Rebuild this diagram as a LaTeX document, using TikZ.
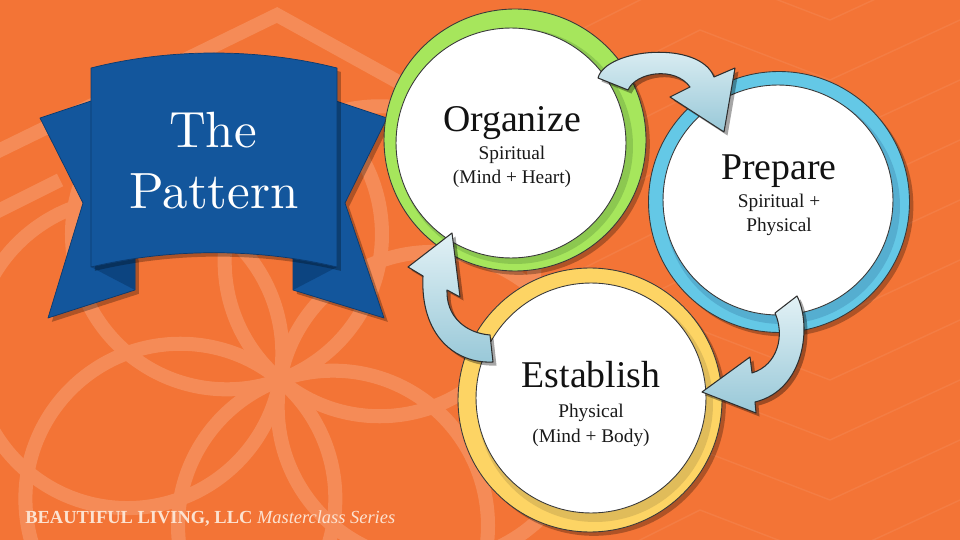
\documentclass[tikz,border=0pt]{standalone}
\usepackage{fontspec}
\newfontfamily\timesfont{Liberation Serif}
\newfontfamily\titlefont{lmroman10-regular.otf}
\usetikzlibrary{shadows}
\definecolor{bgorange}{HTML}{F37436}
\definecolor{ribbonblue}{HTML}{13569C}
\definecolor{ribbondark}{HTML}{0C4480}
\definecolor{ribbonedge}{HTML}{0B3A6E}
\definecolor{greenring}{HTML}{A6E65C}
\definecolor{greendark}{HTML}{8CC850}
\definecolor{bluering}{HTML}{64C8E6}
\definecolor{bluedark}{HTML}{55AED0}
\definecolor{yellowring}{HTML}{FDD464}
\definecolor{yellowdark}{HTML}{E0BC5A}
\definecolor{ringedge}{HTML}{3A3A3A}
\definecolor{arrowlight}{HTML}{E2F1F5}
\definecolor{arrowdark}{HTML}{98C8D8}
\definecolor{arrowedge}{HTML}{2E2E2E}
\definecolor{footcolor}{HTML}{FCE2D0}
\begin{document}
\begin{tikzpicture}[x=0.02cm,y=-0.02cm,line join=round,
  pattline/.style={white,line width=8pt},
  thinpatt/.style={white,opacity=0.07,line width=0.8pt},
  ribbonpart/.style={fill=ribbonblue,draw=ribbonedge,line width=0.4pt},
  softshadow/.style={drop shadow={shadow xshift=2.2pt,shadow yshift=-2.2pt,opacity=0.28,fill=black}},
  outerring/.style={draw=ringedge,line width=0.5pt,softshadow},
  innerdisc/.style={circle,fill=white,draw=ringedge,line width=0.5pt,minimum size=4.6cm,inner sep=0pt},
  titletext/.style={text=white,inner sep=0pt,font=\titlefont\fontsize{29}{34}\selectfont},
  bigtext/.style={text=black!93,inner sep=0pt,font=\timesfont\fontsize{21.5}{24}\selectfont},
  smalltext/.style={text=black!90,inner sep=0pt,font=\timesfont\fontsize{11}{13}\selectfont},
  blockarrow/.style={draw=arrowedge,line width=0.6pt,top color=arrowlight,bottom color=arrowdark,
     drop shadow={shadow xshift=2pt,shadow yshift=-2pt,opacity=0.35,fill=black}}]
\useasboundingbox (0,0) rectangle (960,540);
\fill[bgorange] (0,0) rectangle (960,540);
% background pattern
\begin{scope}
\clip (0,0) rectangle (960,540);
\foreach \i in {-3,...,10} {
  \draw[thinpatt] (560,60*\i+40) -- (700,60*\i-30) -- (830,60*\i+20) -- (960,60*\i-40);
}
\begin{scope}[transparency group,opacity=0.17]
\foreach \a in {10,70,130,190,250,310} {
  \draw[pattline,shift={(280,380)}] (\a:155) circle[radius=3.1cm];
}
\draw[pattline] (-10,155) -- (277,15) -- (440,105);
\draw[pattline] (-10,215) -- (60,180);
\end{scope}
\end{scope}
% ribbon
\path[ribbonpart,softshadow] (40,118) -- (100,98) -- (135,258) -- (135,290) -- (48,318) -- (83,203) -- cycle;
\path[ribbonpart,softshadow] (387,118) -- (327,98) -- (293,258) -- (293,290) -- (384,318) -- (345,203) -- cycle;
\fill[ribbondark] (91,267) -- (135,259) -- (135,290) -- cycle;
\fill[ribbondark] (337,267) -- (293,259) -- (293,290) -- cycle;
\path[ribbonpart,softshadow] (91,68) .. controls (170,48) and (258,48) .. (337,68) -- (337,267) .. controls (258,248) and (170,248) .. (91,267) -- cycle;
\node[titletext,anchor=base] (the) at (213,148) {The};
\node[titletext,anchor=base] (pattern) at (214,209) {Pattern};
% Organize ring
\path[fill=greenring,outerring] (515,140) circle[radius=2.62cm];
\fill[greendark] (515,146) circle[radius=2.36cm];
\node[innerdisc] (organize) at (511,143) {};
\node[bigtext,anchor=base] (orgtitle) at (512,132) {Organize};
\node[smalltext,anchor=base] (orgline1) at (512,160) {Spiritual};
\node[smalltext,anchor=base] (orgline2) at (512,184) {(Mind + Heart)};
% Prepare ring
\path[fill=bluering,outerring] (779,202) circle[radius=2.61cm];
\fill[bluedark] (782,206) circle[radius=2.36cm];
\node[innerdisc] (prepare) at (778,200) {};
\node[bigtext,anchor=base] (pretitle) at (779,180) {Prepare};
\node[smalltext,anchor=base] (preline1) at (779,208) {Spiritual +};
\node[smalltext,anchor=base] (preline2) at (779,232) {Physical};
% Establish ring
\path[fill=yellowring,outerring] (590,400) circle[radius=2.64cm];
\fill[yellowdark] (595,404) circle[radius=2.36cm];
\node[innerdisc] (establish) at (591,398) {};
\node[bigtext,anchor=base] (esttitle) at (591,388) {Establish};
\node[smalltext,anchor=base] (estline1) at (591,418) {Physical};
\node[smalltext,anchor=base] (estline2) at (591,442) {(Mind + Body)};
% curved block arrows
\path[blockarrow] (598,78) .. controls (606,48) and (700,40) .. (714,77) -- (735,68) -- (724,132) -- (670,97) -- (690,87) .. controls (675,66) and (636,72) .. (628,90) -- cycle;
\path[blockarrow] (775,313) -- (797,296) .. controls (812,325) and (805,390) .. (755,402) -- (756,413) -- (702,392) -- (750,357) -- (752,373) .. controls (778,365) and (785,335) .. (775,313) -- cycle;
\path[blockarrow] (490,335) -- (493,362) .. controls (455,364) and (420,335) .. (423,276) -- (408,267) -- (452,233) -- (460,297) -- (447,290) .. controls (446,316) and (465,333) .. (490,335) -- cycle;
% footer
\node[anchor=base west,inner sep=0pt,text=footcolor,font=\timesfont\fontsize{10.5}{12}\selectfont] (footer) at (25,523) {\textbf{BEAUTIFUL LIVING, LLC} \textit{Masterclass Series}};
\end{tikzpicture}
\end{document}
